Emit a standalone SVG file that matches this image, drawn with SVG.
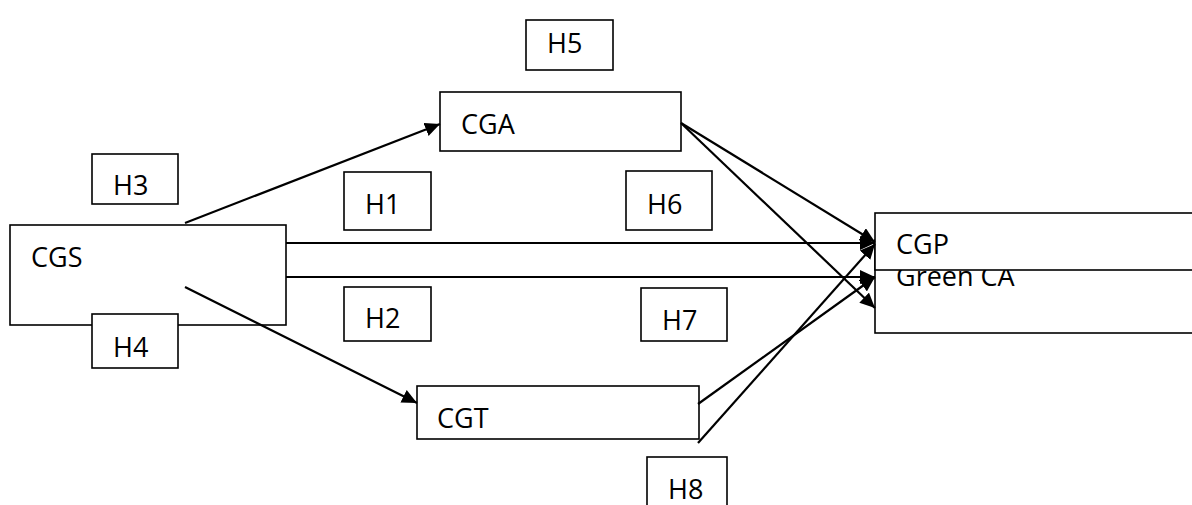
<svg xmlns="http://www.w3.org/2000/svg" width="1192" height="505" viewBox="0 0 1192 505">
<style>
.box{fill:#fff;stroke:#000;stroke-width:1.6}
.t{font-family:"Open Sans","Liberation Sans",sans-serif;font-size:27px;fill:#000}
.c{stroke:#000;stroke-width:2.2;fill:none;marker-end:url(#ah)}
</style>
<defs>
<marker id="ah" markerUnits="userSpaceOnUse" markerWidth="16" markerHeight="14" refX="15" refY="7" orient="auto">
<path d="M0,0 L15,7 L0,14 z" fill="#000"/>
</marker>
</defs>
<g id="n-greenca"><rect class="box" x="875" y="240" width="330" height="93"/><text class="t" x="896" y="286">Green CA</text></g>
<g id="n-cgp"><rect class="box" x="875" y="213" width="330" height="57"/><text class="t" x="896" y="254">CGP</text></g>
<g id="n-cgs"><rect class="box" x="10" y="225" width="276" height="100"/><text class="t" x="31" y="267">CGS</text></g>
<g id="n-h3"><rect class="box" x="92" y="154" width="86" height="50"/><text class="t" x="113" y="195">H3</text></g>
<g id="n-h4"><rect class="box" x="92" y="314" width="86" height="54"/><text class="t" x="113" y="357">H4</text></g>
<g id="n-h5"><rect class="box" x="526" y="20" width="87" height="50"/><text class="t" x="547" y="53">H5</text></g>
<g id="n-cga"><rect class="box" x="440" y="92" width="241" height="59"/><text class="t" x="461" y="134">CGA</text></g>
<g id="n-h1"><rect class="box" x="344" y="172" width="87" height="58"/><text class="t" x="365" y="214">H1</text></g>
<g id="n-h6"><rect class="box" x="626" y="171" width="86" height="59"/><text class="t" x="647" y="214">H6</text></g>
<g id="n-h2"><rect class="box" x="344" y="287" width="87" height="54"/><text class="t" x="365" y="328">H2</text></g>
<g id="n-h7"><rect class="box" x="641" y="288" width="86" height="53"/><text class="t" x="662" y="330">H7</text></g>
<g id="n-cgt"><rect class="box" x="417" y="386" width="282" height="53"/><text class="t" x="437" y="428">CGT</text></g>
<g id="n-h8"><rect class="box" x="647" y="457" width="80" height="55"/><text class="t" x="668" y="499">H8</text></g>
<g id="connectors">
<path class="c" d="M185,223 L440,124"/>
<path class="c" d="M185,287 L417,403"/>
<path class="c" d="M286,243 L875,243"/>
<path class="c" d="M286,277 L875,277"/>
<path class="c" d="M681,123 L875,242"/>
<path class="c" d="M681,123 L875,308"/>
<path class="c" d="M698,404 L875,277"/>
<path class="c" d="M698,443 L875,244"/>
</g>
</svg>
